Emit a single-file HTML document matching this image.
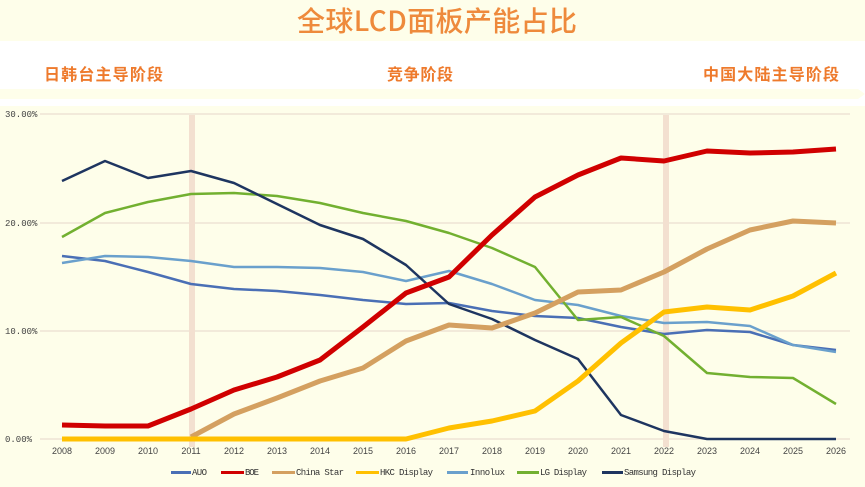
<!DOCTYPE html>
<html><head><meta charset="utf-8"><style>
body{margin:0;width:865px;height:487px;overflow:hidden;background:#fff;font-family:"Liberation Sans","Noto Sans CJK SC",sans-serif}
</style></head><body>
<svg width="865" height="487" xmlns="http://www.w3.org/2000/svg" style="position:absolute;left:0;top:0">
<rect x="0" y="0" width="865" height="41" fill="#fefeea"/>
<text x="437" y="31" text-anchor="middle" font-size="28" font-weight="500" fill="#ee8a3c" font-family="'Noto Sans CJK SC',sans-serif" textLength="280">全球LCD面板产能占比</text>
<text x="44" y="80" font-size="16" font-weight="bold" fill="#ee7a2c" font-family="'Noto Sans CJK SC',sans-serif" textLength="119">日韩台主导阶段</text>
<text x="387" y="80" font-size="16" font-weight="bold" fill="#ee7a2c" font-family="'Noto Sans CJK SC',sans-serif" textLength="66">竞争阶段</text>
<text x="703" y="80" font-size="16" font-weight="bold" fill="#ee7a2c" font-family="'Noto Sans CJK SC',sans-serif" textLength="136">中国大陆主导阶段</text>
<polygon points="0,89 858,89 865,94 858,99 0,99" fill="#fefeea"/>
<rect x="0" y="106" width="865" height="381" fill="#fefeea"/>
<g stroke="#eee4d4" stroke-width="1.5">
<line x1="40" y1="114" x2="850" y2="114"/><line x1="40" y1="223" x2="850" y2="223"/><line x1="40" y1="331" x2="850" y2="331"/><line x1="40" y1="439" x2="850" y2="439"/>
</g>
<rect x="189" y="115" width="6" height="332" fill="#f3e0d0"/>
<rect x="663" y="115" width="6" height="332" fill="#f3e0d0"/>
<g font-size="9" fill="#444" font-family="'Liberation Mono',monospace">
<text x="5" y="117">30.00%</text><text x="5" y="226">20.00%</text><text x="5" y="334">10.00%</text><text x="5" y="442">0.00%</text>
</g>
<g font-size="9" fill="#444" text-anchor="middle">
<text x="62" y="454">2008</text><text x="105" y="454">2009</text><text x="148" y="454">2010</text><text x="191" y="454">2011</text><text x="234" y="454">2012</text><text x="277" y="454">2013</text><text x="320" y="454">2014</text><text x="363" y="454">2015</text><text x="406" y="454">2016</text><text x="449" y="454">2017</text><text x="492" y="454">2018</text><text x="535" y="454">2019</text><text x="578" y="454">2020</text><text x="621" y="454">2021</text><text x="664" y="454">2022</text><text x="707" y="454">2023</text><text x="750" y="454">2024</text><text x="793" y="454">2025</text><text x="836" y="454">2026</text>
</g>
<g fill="none" stroke-linejoin="round">
<polyline stroke="#4a6fb5" stroke-width="2.5" points="62,256 105,261 148,272 191,284 234,289 277,291 320,295 363,300 406,304 449,303 492,311 535,316 578,318 621,327 664,334 707,330 750,332 793,345 836,350"/>
<polyline stroke="#6aa0cc" stroke-width="2.5" points="62,263 105,256 148,257 191,261 234,267 277,267 320,268 363,272 406,281 449,271 492,284 535,300 578,305 621,316 664,323 707,322 750,326 793,345 836,352"/>
<polyline stroke="#72b030" stroke-width="2.5" points="62,237 105,213 148,202 191,194 234,193 277,196 320,203 363,213 406,221 449,233 492,248 535,267 578,320 621,317 664,336 707,373 750,377 793,378 836,404"/>
<polyline stroke="#1e3560" stroke-width="2.5" points="62,181 105,161 148,178 191,171 234,183 277,204 320,225 363,239 406,265 449,304 492,319 535,340 578,359 621,415 664,431 707,439 750,439 793,439 836,439"/>
<polyline stroke="#d4a060" stroke-width="5" points="191,437 234,414 277,398 320,381 363,368 406,341 449,325 492,328 535,313 578,292 621,290 664,272 707,249 750,230 793,221 836,223"/>
<polyline stroke="#ffc000" stroke-width="5" points="62,439 406,439 449,428 492,421 535,411 578,381 621,343 664,312 707,307 750,310 793,296 836,273"/>
<polyline stroke="#d00000" stroke-width="5" points="62,425 105,426 148,426 191,409 234,390 277,377 320,360 363,327 406,293 449,277 492,235 535,197 578,175 621,158 664,161 707,151 750,153 793,152 836,149"/>
</g>
<g font-size="9" fill="#333" font-family="'Liberation Mono',monospace">
<rect x="171" y="471" width="20" height="3" fill="#4a6fb5"/><text x="192" y="475" textLength="15">AUO</text>
<rect x="221" y="471" width="23" height="3" fill="#d00000"/><text x="245" y="475" textLength="14">BOE</text>
<rect x="272" y="471" width="23" height="3" fill="#d4a060"/><text x="296" y="475" textLength="48">China Star</text>
<rect x="356" y="471" width="23" height="3" fill="#ffc000"/><text x="380" y="475" textLength="53">HKC Display</text>
<rect x="447" y="471" width="21" height="3" fill="#6aa0cc"/><text x="470" y="475" textLength="35">Innolux</text>
<rect x="517" y="471" width="22" height="3" fill="#72b030"/><text x="540" y="475" textLength="47">LG Display</text>
<rect x="602" y="471" width="21" height="3" fill="#1e3560"/><text x="624" y="475" textLength="72">Samsung Display</text>
</g>
</svg>
</body></html>
